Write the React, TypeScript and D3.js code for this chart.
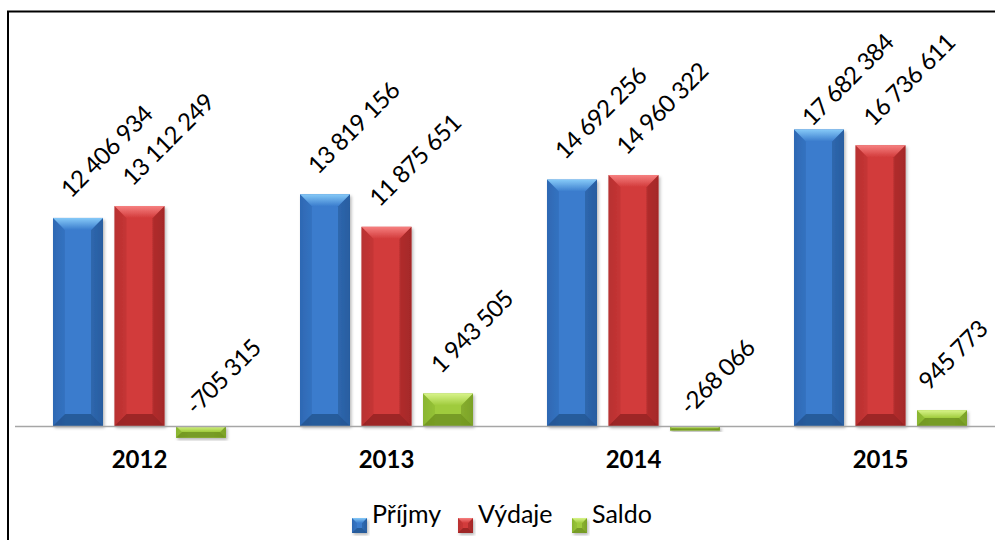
import React from 'react';
import * as d3 from 'd3';

const categories = ['2012', '2013', '2014', '2015'];
const seriesNames = ['Příjmy', 'Výdaje', 'Saldo'];
const prijmy = [12406934, 13819156, 14692256, 17682384];
const vydaje = [13112249, 11875651, 14960322, 16736611];
const saldo = [-705315, 1943505, -268066, 945773];
const seriesValues = [prijmy, vydaje, saldo];

const palettes = [
  { main: '#3a7ccd', light: '#86caf8', dark: '#22508a', edge: '#2f69b3' },
  { main: '#d23a3a', light: '#f68080', dark: '#8c2020', edge: '#b83030' },
  { main: '#9fcb3c', light: '#d8f48a', dark: '#6a8c1e', edge: '#8ab530' },
];

const W = 995;
const H = 540;
const FONT = 'Lato, "Open Sans", sans-serif';
const LABEL_SIZE = 24;
const LABEL_LS = -0.6;

const locale = d3.formatLocale({
  decimal: ',',
  thousands: '\u00a0',
  grouping: [3],
  currency: ['', ''],
  minus: '-',
});
const fmt = locale.format(',d');

function textLen(s: string) {
  let em = 0;
  for (const ch of s) {
    if (ch === '\u00a0' || ch === ' ') em += 0.193;
    else if (ch === '-') em += 0.36;
    else em += 0.58;
  }
  return em * LABEL_SIZE + LABEL_LS * s.length;
}

function Bar({ x, y, w, h, p, id, bev }: any) {
  const b = Math.min(bev, h / 2, w / 2);
  return (
    <g filter="url(#shadow)">
      <rect x={x} y={y} width={w} height={h} fill={`url(#body${id})`} />
      <polygon
        points={`${x},${y} ${x + b},${y + b} ${x + b},${y + h - b} ${x},${y + h}`}
        fill={p.edge}
        opacity={0.45}
      />
      <polygon
        points={`${x + w},${y} ${x + w - b},${y + b} ${x + w - b},${y + h - b} ${x + w},${y + h}`}
        fill={p.dark}
        opacity={0.45}
      />
      <polygon
        points={`${x},${y + h} ${x + b},${y + h - b} ${x + w - b},${y + h - b} ${x + w},${y + h}`}
        fill={p.dark}
        opacity={0.75}
      />
      <polygon
        points={`${x},${y} ${x + w},${y} ${x + w - b},${y + b} ${x + b},${y + b}`}
        fill={`url(#top${id})`}
      />
    </g>
  );
}

export default function App() {
  const x0 = d3.scaleBand().domain(categories).range([16, 1004]).paddingInner(0).paddingOuter(0);
  const x1 = d3.scaleBand().domain(seriesNames).range([37, 210]).paddingInner(0.187).paddingOuter(0);
  const y = d3.scaleLinear().domain([0, 18000000]).range([426, 124.1]);
  const bw = x1.bandwidth();

  const legendX = [352, 458, 572];

  return (
    <svg width={W} height={H} style={{ position: 'absolute', left: 0, top: 0 }}>
      <defs>
        <filter id="shadow" x="-20%" y="-20%" width="140%" height="140%">
          <feDropShadow dx="1.5" dy="2" stdDeviation="1.5" floodColor="#000" floodOpacity="0.28" />
        </filter>
        {palettes.map((p, i) => (
          <React.Fragment key={i}>
            <linearGradient id={`body${i}`} x1="0" x2="1" y1="0" y2="0">
              <stop offset="0" stopColor={p.edge} />
              <stop offset="0.25" stopColor={p.main} />
              <stop offset="0.75" stopColor={p.main} />
              <stop offset="1" stopColor={p.edge} />
            </linearGradient>
            <linearGradient id={`top${i}`} x1="0" x2="0" y1="0" y2="1">
              <stop offset="0" stopColor={p.light} />
              <stop offset="1" stopColor={p.main} />
            </linearGradient>
          </React.Fragment>
        ))}
      </defs>
      <rect x={0} y={0} width={W} height={H} fill="#fff" />
      <rect x={8} y={11.5} width={1100} height={700} fill="none" stroke="#000" strokeWidth={2} />

      {categories.map((c, ci) => (
        <g key={c} transform={`translate(${x0(c)},0)`}>
          {seriesNames.map((s, si) => {
            const v = seriesValues[si][ci];
            const bx = x1(s)!;
            const top = y(Math.max(v, 0));
            const bot = y(Math.min(v, 0));
            return (
              <Bar key={s} x={bx} y={top} w={bw} h={bot - top} p={palettes[si]} id={si} bev={12} />
            );
          })}
        </g>
      ))}

      <line x1={15} x2={995} y1={426.5} y2={426.5} stroke="#a6a6a6" strokeWidth={1.5} />

      {categories.map((c, ci) => (
        <g key={c + 'l'} transform={`translate(${x0(c)},0)`}>
          {seriesNames.map((s, si) => {
            const v = seriesValues[si][ci];
            const label = fmt(v);
            const cx = x1(s)! + bw / 2;
            let ay = v >= 0 ? y(v) - 19 : y(0) - 10;
            let ax = v >= 0 ? cx - 7 : cx - 5;
            const L = textLen(label);
            const endX = x0(c)! + ax + L * Math.SQRT1_2;
            const limitX = 988;
            if (endX > limitX) ax -= endX - limitX;
            const topY = ay - L * Math.SQRT1_2 - 0.72 * LABEL_SIZE * Math.SQRT1_2;
            const limitY = 34;
            if (topY < limitY) ay += limitY - topY;
            return (
              <text
                key={s}
                transform={`translate(${ax},${ay}) rotate(-45)`}
                fontFamily={FONT}
                fontSize={LABEL_SIZE}
                letterSpacing={LABEL_LS}
                fill="#000"
              >
                {label}
              </text>
            );
          })}
          <text
            x={x0.bandwidth() / 2}
            y={468}
            textAnchor="middle"
            fontFamily={FONT}
            fontWeight="bold"
            fontSize={24}
            fill="#000"
          >
            {c}
          </text>
        </g>
      ))}

      {seriesNames.map((s, si) => (
        <g key={s} transform={`translate(${legendX[si]},518)`}>
          <Bar x={0} y={0} w={15} h={15} p={palettes[si]} id={si} bev={5} />
          <text x={20} y={5} fontFamily={FONT} fontSize={25} fill="#000">
            <tspan y={5}>{s}</tspan>
          </text>
        </g>
      ))}
    </svg>
  );
}
